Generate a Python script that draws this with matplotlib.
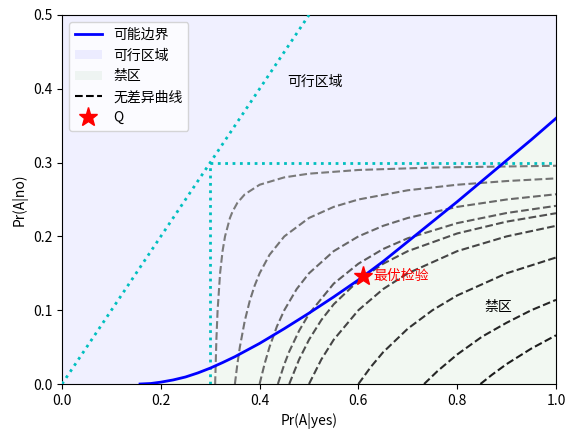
#!/usr/bin/env python
# -*- coding:utf-8 -*-
# test frontier with indifference curves, Pr(A|yes) vs Pr(A|no)

import matplotlib
matplotlib.use('Agg')
import matplotlib.pyplot as plt

plt.rcParams['font.family'] = ['Noto Sans CJK SC', 'DejaVu Sans']

# frontier
frontier_x = [0.158, 0.18, 0.20, 0.225, 0.25, 0.275, 0.30, 0.325, 0.35, 0.375, 0.40, 0.45, 0.50,
              0.55, 0.60, 0.65, 0.70, 0.75, 0.80, 0.85, 0.90, 0.95, 1.0]
frontier_y = [0.0, 0.0007, 0.0025, 0.0055, 0.0095, 0.015, 0.0215, 0.029, 0.037, 0.046, 0.055, 0.075, 0.096,
              0.118, 0.141, 0.166, 0.193, 0.220, 0.247, 0.275, 0.303, 0.331, 0.360]

# indifference curves, one (x, y) list per curve
curves_x = [
    [0.31, 0.3125, 0.315, 0.32, 0.325, 0.33, 0.34, 0.345, 0.355, 0.37, 0.40, 0.45, 0.50, 0.60, 0.75, 1.0],
    [0.35, 0.355, 0.36, 0.37, 0.38, 0.39, 0.40, 0.42, 0.45, 0.50, 0.55, 0.60, 0.70, 0.80, 0.90, 1.0],
    [0.40, 0.41, 0.42, 0.435, 0.45, 0.475, 0.50, 0.55, 0.60, 0.65, 0.70, 0.80, 0.90, 1.0],
    [0.437, 0.45, 0.46, 0.48, 0.50, 0.55, 0.60, 0.65, 0.70, 0.80, 0.90, 1.0],
    [0.46, 0.48, 0.50, 0.525, 0.55, 0.60, 0.65, 0.70, 0.80, 0.90, 1.0],
    [0.50, 0.525, 0.55, 0.60, 0.65, 0.70, 0.80, 0.90, 1.0],
    [0.60, 0.625, 0.65, 0.70, 0.75, 0.80, 0.90, 1.0],
    [0.733, 0.76, 0.80, 0.85, 0.90, 0.95, 1.0],
    [0.847, 0.87, 0.90, 0.95, 1.0],
]
curves_y = [
    [0.0, 0.06, 0.10, 0.15, 0.18, 0.20, 0.225, 0.2333, 0.2455, 0.257, 0.27, 0.28, 0.285, 0.29, 0.2933, 0.2957],
    [0.0, 0.027, 0.05, 0.0857, 0.1125, 0.1333, 0.15, 0.175, 0.20, 0.225, 0.24, 0.25, 0.2625, 0.27, 0.275, 0.2786],
    [0.0, 0.027, 0.05, 0.078, 0.10, 0.1286, 0.15, 0.18, 0.20, 0.2143, 0.225, 0.24, 0.25, 0.2571],
    [0.0, 0.0267, 0.044, 0.0722, 0.095, 0.136, 0.163, 0.1829, 0.1975, 0.218, 0.2317, 0.2414],
    [0.0, 0.0333, 0.06, 0.0867, 0.108, 0.14, 0.1629, 0.18, 0.204, 0.22, 0.2314],
    [0.0, 0.0333, 0.06, 0.10, 0.1286, 0.15, 0.18, 0.20, 0.2143],
    [0.0, 0.023, 0.043, 0.075, 0.10, 0.12, 0.15, 0.1714],
    [0.0, 0.0174, 0.04, 0.064, 0.083, 0.10, 0.114],
    [0.0, 0.0123, 0.027, 0.048, 0.066],
]
curve_colors = ['#7a7a7a', '#737373', '#686868', '#5c5c5c', '#505050', '#454545', '#333333', '#262626', '#1c1c1c']

q_x, q_y = 0.61, 0.146
limit = 0.3

fig = plt.figure(figsize=(5.78, 4.38), dpi=100)
ax = fig.add_axes([62/578, 1-384/438, (556-62)/578, (384-15)/438])

fill_x = [0.0] + frontier_x
fill_y = [0.0] + frontier_y
ax.fill_between(fill_x, fill_y, 0.5, color='blue', alpha=0.06, lw=0, label='可行区域', zorder=0)
ax.fill_between(fill_x, 0, fill_y, color='green', alpha=0.05, lw=0, label='禁区', zorder=0)

for cx, cy, cc in zip(curves_x, curves_y, curve_colors):
    ax.plot(cx, cy, ls='--', color=cc, lw=1.5, zorder=2)
ax.plot([], [], ls='--', color='k', lw=1.5, label='无差异曲线')

# constraints
ax.plot([0, 0.5], [0, 0.5], ':', color='c', lw=2, zorder=3)
ax.plot([limit, 1.0], [limit, limit], ':', color='c', lw=2, zorder=3)
ax.plot([limit, limit], [0, limit], ':', color='c', lw=2, zorder=3)

ax.plot(frontier_x, frontier_y, color='blue', lw=2, label='可能边界', zorder=4)
ax.plot(q_x, q_y, '*', color='red', ms=14, label='Q', zorder=5)

ax.text(q_x + 0.02, q_y, '最优检验', color='red', va='center', fontsize=10)
ax.text(0.455, 0.41, '可行区域', va='center', fontsize=10)
ax.text(0.855, 0.105, '禁区', va='center', fontsize=10)

handles, labels = ax.get_legend_handles_labels()
order = [labels.index(l) for l in ['可能边界', '可行区域', '禁区', '无差异曲线', 'Q']]
ax.legend([handles[i] for i in order], [labels[i] for i in order], loc='upper left')

ax.set_xlim(0, 1)
ax.set_ylim(0, 0.5)
ax.set_xlabel('Pr(A|yes)')
ax.set_ylabel('Pr(A|no)')

fig.savefig('out.png', dpi=100)
